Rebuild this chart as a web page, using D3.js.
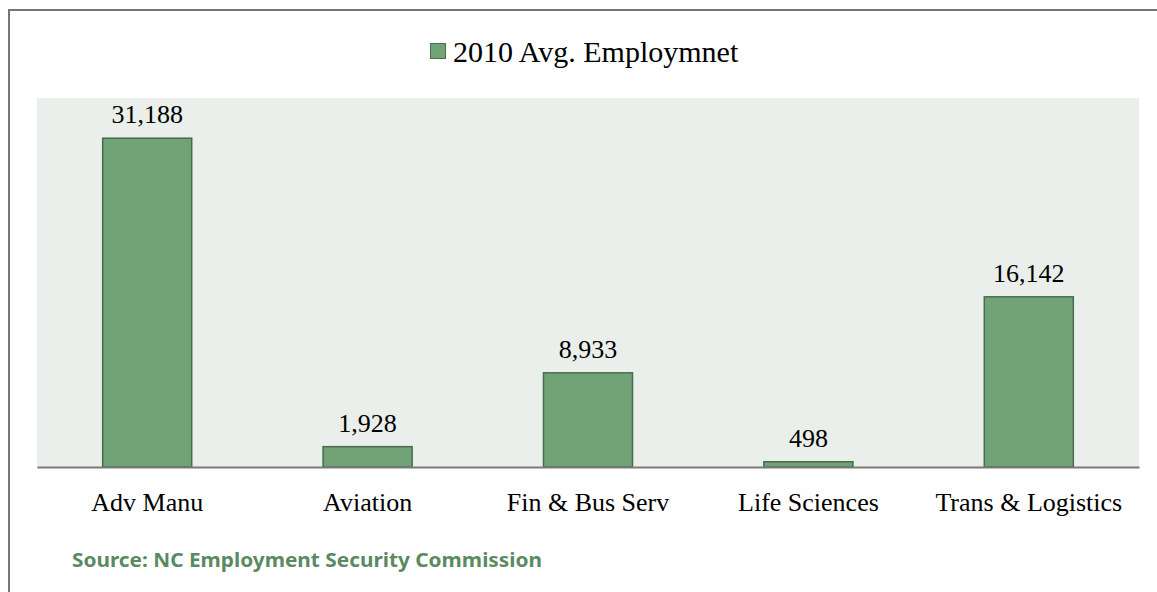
<!DOCTYPE html>
<html>
<head>
<meta charset="utf-8">
<script src="https://cdn.jsdelivr.net/npm/d3@7"></script>
<style>
  body { margin: 0; background: #fff; }
  svg { display: block; }
</style>
</head>
<body>
<svg id="chart" width="1157" height="592"></svg>
<script>
// data
var categories = ["Adv Manu", "Aviation", "Fin & Bus Serv", "Life Sciences", "Trans & Logistics"]
var employment = [31188, 1928, 8933, 498, 16142]
var seriesName = "2010 Avg. Employmnet"
var sourceText = "Source: NC Employment Security Commission"

var svg = d3.select("#chart")
var plot = {left: 37, right: 1139, top: 98, bottom: 467}

// frame (top and left edges only are visible)
svg.append("path")
  .attr("d", "M9,592 V10 H1157")
  .attr("fill", "none")
  .attr("stroke", "#767676")
  .attr("stroke-width", 2)

// plot background
svg.append("rect")
  .attr("x", plot.left).attr("y", plot.top)
  .attr("width", plot.right - plot.left)
  .attr("height", plot.bottom - plot.top)
  .attr("fill", "#eaefeb")

var x = d3.scaleBand()
  .domain(categories)
  .range([plot.left, plot.right])
  .paddingInner(0.596)
  .paddingOuter(0.298)

var y = d3.scaleLinear()
  .domain([0, 35000])
  .range([plot.bottom, plot.top])

svg.selectAll(".bar")
  .data(employment)
  .enter().append("rect")
  .attr("class", "bar")
  .attr("x", function(d, i) { return x(categories[i]) })
  .attr("y", function(d) { return y(d) })
  .attr("width", x.bandwidth())
  .attr("height", function(d) { return y(0) - y(d) })
  .attr("fill", "#71a376")
  .attr("stroke", "#476d4c")
  .attr("stroke-width", 1.5)

// value labels
svg.selectAll(".val")
  .data(employment)
  .enter().append("text")
  .attr("class", "val")
  .attr("x", function(d, i) { return x(categories[i]) + x.bandwidth() / 2 })
  .attr("y", function(d) { return y(d) - 15 })
  .attr("text-anchor", "middle")
  .attr("font-family", "Liberation Serif, Times New Roman, serif")
  .attr("font-size", 26)
  .attr("fill", "#000")
  .text(function(d) { return d3.format(",")(d) })

// x axis
var xAxis = svg.append("g")
  .attr("transform", "translate(0," + plot.bottom + ")")
  .call(d3.axisBottom(x).tickSize(0).tickPadding(26))
xAxis.select(".domain").attr("stroke", "#7a7a7a").attr("stroke-width", 2)
xAxis.selectAll("text")
  .attr("font-family", "Liberation Serif, Times New Roman, serif")
  .attr("font-size", 26)
  .attr("fill", "#000")

// legend
var legend = svg.append("g").attr("transform", "translate(430,43)")
legend.append("rect")
  .attr("x", 0.5).attr("y", 0.5)
  .attr("width", 15).attr("height", 15)
  .attr("fill", "#71a376")
  .attr("stroke", "#476d4c")
legend.append("text")
  .attr("x", 23).attr("y", 19)
  .attr("font-family", "Liberation Serif, Times New Roman, serif")
  .attr("font-size", 30)
  .attr("fill", "#000")
  .text(seriesName)

// source note
svg.append("text")
  .attr("x", 72).attr("y", 567)
  .attr("font-family", "Noto Sans, sans-serif")
  .attr("font-weight", "bold")
  .attr("font-size", 19)
  .attr("fill", "#5a8a5f")
  .attr("textLength", 470)
  .attr("lengthAdjust", "spacingAndGlyphs")
  .text(sourceText)
</script>
</body>
</html>
